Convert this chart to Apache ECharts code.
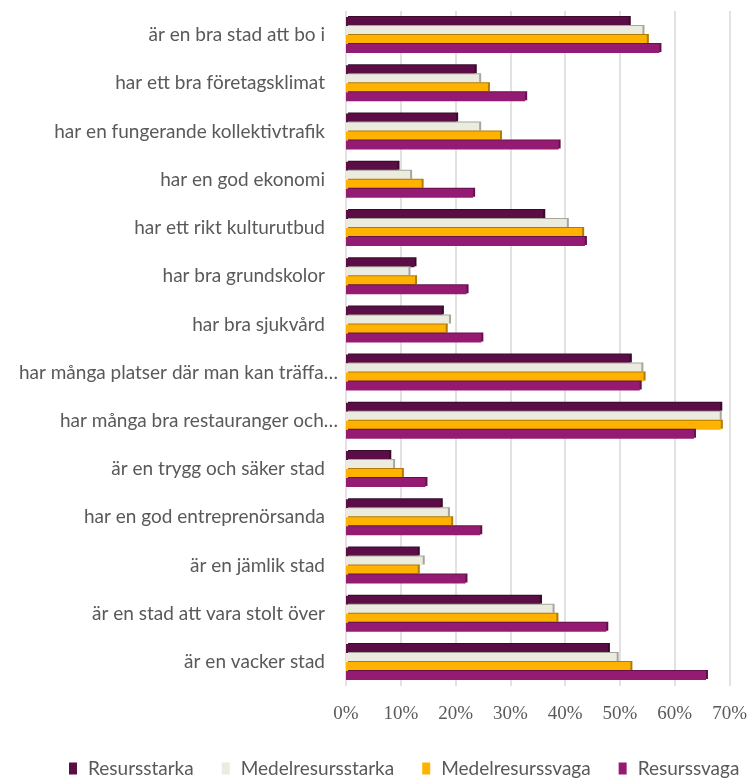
<!DOCTYPE html>
<html><head><meta charset="utf-8">
<script src="https://cdn.jsdelivr.net/npm/echarts@6/dist/echarts.min.js"></script>
<style>html,body{margin:0;padding:0;background:#fff}#c{width:750px;height:779px}</style>
</head><body><div id="c"></div>
<script>
const categories = [
  "är en bra stad att bo i",
  "har ett bra företagsklimat",
  "har en fungerande kollektivtrafik",
  "har en god ekonomi",
  "har ett rikt kulturutbud",
  "har bra grundskolor",
  "har bra sjukvård",
  "har många platser där man kan träffa…",
  "har många bra restauranger och…",
  "är en trygg och säker stad",
  "har en god entreprenörsanda",
  "är en jämlik stad",
  "är en stad att vara stolt över",
  "är en vacker stad"
];
const resursstarka      = [51.6, 23.5, 20.1,  9.4, 36.0, 12.5, 17.5, 51.8, 68.3,  7.9, 17.3, 13.1, 35.4, 47.8];
const medelresursstarka = [54.1, 24.3, 24.3, 11.7, 40.3, 11.4, 18.8, 53.9, 68.2,  8.6, 18.6, 14.0, 37.7, 49.4];
const medelresurssvaga  = [54.9, 25.9, 28.1, 13.8, 43.1, 12.6, 18.2, 54.3, 68.4, 10.2, 19.2, 13.1, 38.4, 51.9];
const resurssvaga       = [57.2, 32.7, 38.8, 23.2, 43.6, 22.0, 24.7, 53.6, 63.5, 14.5, 24.5, 21.8, 47.5, 65.7];
const seriesNames = ["Resursstarka", "Medelresursstarka", "Medelresurssvaga", "Resurssvaga"];
const seriesData = [resursstarka, medelresursstarka, medelresurssvaga, resurssvaga];
const colors = ["#5a0e45", "#ebebe0", "#ffb300", "#951b72"];
const shadows = ["#3a0a2d", "#a6a69c", "#b07b00", "#62124b"];

const chart = echarts.init(document.getElementById('c'));
chart.setOption({
  animation: false,
  grid: { left: 346, right: 18, top: 11, bottom: 93, containLabel: false },
  xAxis: {
    type: 'value', min: 0, max: 70, interval: 10,
    axisLabel: { formatter: '{value}%', fontFamily: 'Liberation Serif', fontSize: 19, color: '#595959', margin: 19 },
    splitLine: { lineStyle: { color: '#d9d9d9', width: 1.5 } },
    axisLine: { show: false }, axisTick: { show: false }
  },
  yAxis: {
    type: 'category', data: categories, inverse: true,
    axisLabel: {
      margin: 8,
      formatter: v => v.endsWith('…') ? '{e|' + v + '}' : '{n|' + v + '}',
      rich: {
        n: { fontFamily: 'Lato', fontSize: 19, color: '#595959', padding: [0, 13, 0, 0] },
        e: { fontFamily: 'Lato', fontSize: 19, color: '#595959' }
      }
    },
    axisLine: { show: false }, axisTick: { show: false }
  },
  legend: {
    top: 754, left: 64, itemWidth: 8, itemHeight: 12, itemGap: 28,
    icon: 'rect',
    textStyle: { fontFamily: 'Lato', fontSize: 19, color: '#595959', padding: [0, 0, 0, 6] },
    data: seriesNames
  },
  series: seriesNames.map((n, i) => ({
    name: n, type: 'bar', data: seriesData[i],
    barWidth: 9, barGap: '0%',
    itemStyle: { color: colors[i], shadowColor: shadows[i], shadowOffsetX: 2, shadowOffsetY: -1, shadowBlur: 0 }
  }))
});
</script></body></html>
